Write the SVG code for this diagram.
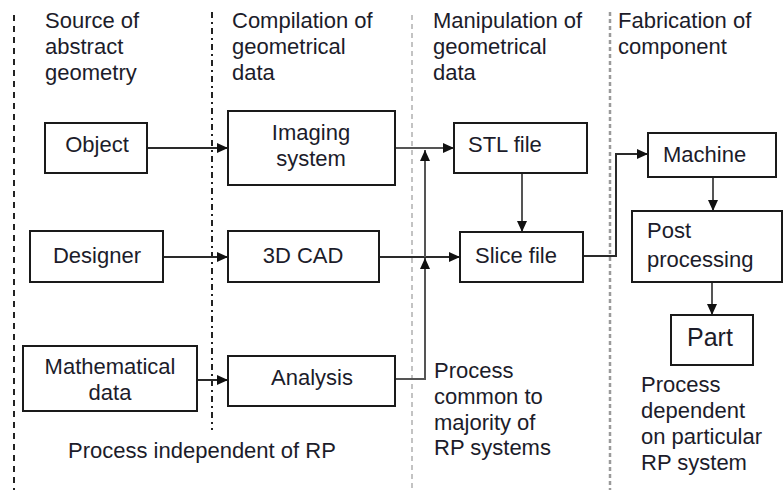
<svg xmlns="http://www.w3.org/2000/svg" width="784" height="490" viewBox="0 0 784 490">
  <style>
    text { font-family: "Liberation Sans", Arial, sans-serif; font-size: 22px; fill: #1c1c2a; }
    .box { fill: #ffffff; stroke: #1a1a1a; stroke-width: 2; }
    .mid { text-anchor: middle; }
    .link { fill: none; stroke: #2a2a2a; stroke-width: 2; }
    .grey { stroke: #555555; }
    .sep1 { stroke: #222222; stroke-width: 2; stroke-dasharray: 6 5; fill: none; }
    .sep2 { stroke: #222222; stroke-width: 2; stroke-dasharray: 6 4 2 4; fill: none; }
    .sep3 { stroke: #b0b0b0; stroke-width: 1.5; stroke-dasharray: 5 4; fill: none; }
    .sep4 { stroke: #9a9a9a; stroke-width: 2.5; stroke-dasharray: 4 3; fill: none; }
  </style>
  <defs>
    <marker id="arrow" markerUnits="userSpaceOnUse" markerWidth="12" markerHeight="10" refX="11" refY="5" orient="auto">
      <path d="M0,0 L11,5 L0,10 Z" fill="#111111"/>
    </marker>
  </defs>

  <rect width="784" height="490" fill="#ffffff"/>

  <!-- column separators -->
  <g id="separators">
    <line class="sep1" x1="14" y1="15" x2="14" y2="490"/>
    <line class="sep2" x1="212" y1="12" x2="212" y2="430"/>
    <line class="sep3" x1="412" y1="15" x2="412" y2="490"/>
    <line class="sep4" x1="610" y1="12" x2="610" y2="490"/>
  </g>

  <!-- column headings -->
  <g id="headings">
    <text x="45" y="28">Source of</text>
    <text x="45" y="54">abstract</text>
    <text x="45" y="80">geometry</text>
    <text x="232" y="28">Compilation of</text>
    <text x="232" y="54">geometrical</text>
    <text x="232" y="80">data</text>
    <text x="433" y="28">Manipulation of</text>
    <text x="433" y="54">geometrical</text>
    <text x="433" y="80">data</text>
    <text x="618" y="28">Fabrication of</text>
    <text x="618" y="54">component</text>
  </g>

  <!-- connectors -->
  <g id="connectors">
    <line class="link" x1="147" y1="148" x2="228" y2="148" marker-end="url(#arrow)"/>
    <line class="link" x1="163" y1="257" x2="228" y2="257" marker-end="url(#arrow)"/>
    <line class="link" x1="197" y1="380" x2="228" y2="380" marker-end="url(#arrow)"/>
    <line class="link grey" x1="395" y1="148" x2="454" y2="148" marker-end="url(#arrow)"/>
    <line class="link" x1="379" y1="257" x2="460" y2="257" marker-end="url(#arrow)"/>
    <polyline class="link grey" points="395,379 425,379 425,268"/>
    <line class="link grey" x1="425" y1="268" x2="425" y2="258" marker-end="url(#arrow)"/>
    <line class="link grey" x1="425" y1="257" x2="425" y2="150" marker-end="url(#arrow)"/>
    <line class="link grey" x1="522" y1="173" x2="522" y2="232" marker-end="url(#arrow)"/>
    <polyline class="link" points="583,256 616,256 616,154 648,154" marker-end="url(#arrow)"/>
    <line class="link grey" x1="713" y1="177" x2="713" y2="211" marker-end="url(#arrow)"/>
    <line class="link grey" x1="712" y1="282" x2="712" y2="315" marker-end="url(#arrow)"/>
  </g>

  <g id="object">
    <rect class="box" x="45" y="123" width="102" height="50"/>
    <text class="mid" x="97" y="152">Object</text>
  </g>
  <g id="designer">
    <rect class="box" x="30" y="231" width="133" height="51"/>
    <text class="mid" x="97" y="263">Designer</text>
  </g>
  <g id="mathematical-data">
    <rect class="box" x="23" y="346" width="174" height="65"/>
    <text class="mid" x="110" y="374">Mathematical</text>
    <text class="mid" x="110" y="400">data</text>
  </g>
  <g id="imaging-system">
    <rect class="box" x="228" y="111" width="167" height="74"/>
    <text class="mid" x="311" y="140">Imaging</text>
    <text class="mid" x="311" y="166">system</text>
  </g>
  <g id="cad-3d">
    <rect class="box" x="228" y="231" width="151" height="51"/>
    <text class="mid" x="303" y="263">3D CAD</text>
  </g>
  <g id="analysis">
    <rect class="box" x="228" y="356" width="167" height="50"/>
    <text class="mid" x="312" y="385">Analysis</text>
  </g>
  <g id="stl-file">
    <rect class="box" x="454" y="123" width="133" height="50"/>
    <text x="468" y="152">STL file</text>
  </g>
  <g id="slice-file">
    <rect class="box" x="460" y="232" width="123" height="50"/>
    <text x="475" y="263">Slice file</text>
  </g>
  <g id="machine">
    <rect class="box" x="648" y="133" width="128" height="44"/>
    <text x="663" y="162">Machine</text>
  </g>
  <g id="post-processing">
    <rect class="box" x="632" y="211" width="150" height="71"/>
    <text x="647" y="238">Post</text>
    <text x="647" y="267">processing</text>
  </g>
  <g id="part">
    <rect class="box" x="671" y="315" width="82" height="50"/>
    <text x="687" y="346" style="font-size:25px">Part</text>
  </g>

  <!-- process notes -->
  <g id="notes">
    <text x="68" y="458">Process independent of RP</text>
    <text x="434" y="378">Process</text>
    <text x="434" y="404">common to</text>
    <text x="434" y="430">majority of</text>
    <text x="434" y="455">RP systems</text>
    <text x="641" y="392">Process</text>
    <text x="641" y="418">dependent</text>
    <text x="641" y="444">on particular</text>
    <text x="641" y="470">RP system</text>
  </g>
</svg>
